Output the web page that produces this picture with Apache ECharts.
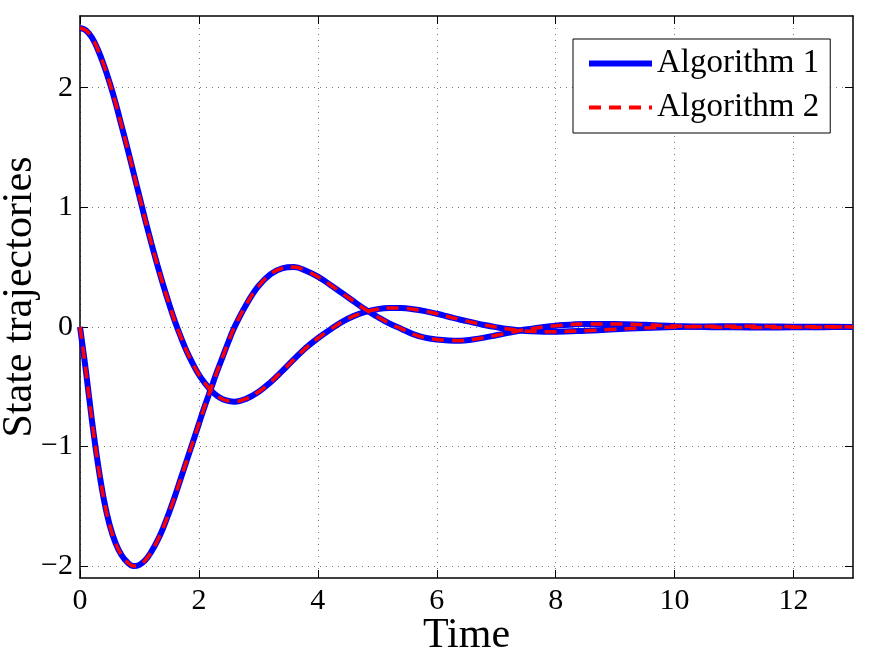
<!DOCTYPE html>
<html>
<head>
<meta charset="utf-8">
<script src="https://cdn.jsdelivr.net/npm/echarts@6/dist/echarts.min.js"></script>
<style>
  html, body { margin: 0; padding: 0; background: #fff; }
  #main { width: 875px; height: 659px; }
</style>
</head>
<body>
<div id="main"></div>
<script>
  // time samples
  var time = [0, 0.1, 0.2, 0.3, 0.4, 0.5, 0.6, 0.7, 0.8, 0.9, 1.0, 1.1, 1.2, 1.3, 1.4, 1.5, 1.6, 1.7, 1.8, 1.9, 2.0, 2.1, 2.2, 2.3, 2.4, 2.5, 2.6,
    2.8, 3.0, 3.2, 3.4, 3.6, 3.8, 4.0, 4.2, 4.4, 4.6, 4.8, 5.0, 5.2, 5.4, 5.6, 5.8, 6.0, 6.2, 6.4, 6.6, 6.8, 7.0, 7.2, 7.4, 7.6, 7.8, 8.0,
    8.5, 9, 9.5, 10, 10.5, 11, 11.5, 12, 12.5, 13];

  // first state (starts at 2.5)
  var state1 = [2.50, 2.48, 2.42, 2.32, 2.19, 2.04, 1.87, 1.68, 1.49, 1.29, 1.09, 0.89, 0.70, 0.52, 0.35, 0.19, 0.04, -0.09, -0.21, -0.31, -0.40, -0.47, -0.53, -0.575, -0.605, -0.62, -0.625,
    -0.60, -0.545, -0.465, -0.37, -0.27, -0.175, -0.095, -0.025, 0.04, 0.09, 0.125, 0.148, 0.158, 0.157, 0.148, 0.132, 0.11, 0.085, 0.06, 0.038, 0.016, -0.002, -0.018, -0.03, -0.037, -0.04, -0.04,
    -0.032, -0.02, -0.009, -0.001, 0.004, 0.005, 0.004, 0.002, 0.001, 0];

  // second state (starts at 0)
  var state2 = [0, -0.37, -0.78, -1.14, -1.44, -1.66, -1.81, -1.91, -1.97, -2.0, -1.99, -1.95, -1.88, -1.79, -1.68, -1.55, -1.41, -1.26, -1.11, -0.96, -0.81, -0.66, -0.52, -0.38, -0.25, -0.12, 0.0,
    0.19, 0.34, 0.44, 0.49, 0.50, 0.47, 0.42, 0.355, 0.285, 0.215, 0.145, 0.085, 0.03, -0.015, -0.06, -0.09, -0.105, -0.113, -0.115, -0.105, -0.09, -0.07, -0.05, -0.03, -0.015, 0.0, 0.01,
    0.024, 0.025, 0.017, 0.008, 0.0, -0.004, -0.005, -0.004, -0.002, 0];

  var xTicks = [0, 2, 4, 6, 8, 10, 12];
  var yTicks = [-2, -1, 0, 1, 2];

  function pairs(vals) {
    var out = [];
    for (var i = 0; i < time.length; i++) out.push([time[i], vals[i]]);
    return out;
  }

  var font = 'Liberation Serif';
  var gridStyle = { show: true, lineStyle: { color: '#7a7a7a', width: 1, type: [1, 5] } };
  var frame = { onZero: false, lineStyle: { color: '#000', width: 1.5 } };
  var tickX = { inside: true, length: 8, customValues: xTicks, lineStyle: { color: '#000' } };
  var tickY = { show: true, inside: true, length: 8, customValues: yTicks, lineStyle: { color: '#000' } };

  function blueLine(vals) {
    return {
      name: 'Algorithm 1', type: 'line', data: pairs(vals), smooth: 0.4,
      symbol: 'none', lineStyle: { color: '#0000ff', width: 6 }, itemStyle: { color: '#0000ff' }
    };
  }
  function redLine(vals) {
    return {
      name: 'Algorithm 2', type: 'line', data: pairs(vals), smooth: 0.4,
      symbol: 'none', lineStyle: { color: '#ff0000', width: 3.5, type: [12, 8] }, itemStyle: { color: '#ff0000' }
    };
  }

  var chart = echarts.init(document.getElementById('main'));
  chart.setOption({
    animation: false,
    backgroundColor: '#fff',
    grid: { left: 80, right: 22, top: 16, bottom: 81, containLabel: false, outerBoundsMode: 'none' },
    legend: {
      orient: 'vertical', left: 573, top: 39,
      padding: [8, 11, 9, 13], itemGap: 11,
      itemWidth: 63, itemHeight: 14,
      backgroundColor: '#fff', borderColor: '#000', borderWidth: 1,
      textStyle: { fontFamily: font, fontSize: 33, color: '#000' },
      itemStyle: { opacity: 0 },
      data: [
        { name: 'Algorithm 1', lineStyle: { width: 6 } },
        { name: 'Algorithm 2', lineStyle: { width: 4 } }
      ]
    },
    xAxis: [{
      type: 'value', min: 0, max: 13,
      name: 'Time', nameLocation: 'middle', nameGap: 37, nameMoveOverlap: false,
      nameTextStyle: { fontFamily: font, fontSize: 42, color: '#000' },
      axisLine: frame,
      axisTick: tickX,
      axisLabel: { customValues: xTicks, fontFamily: font, fontSize: 30, color: '#000', margin: 8 },
      splitLine: gridStyle
    }, {
      type: 'value', min: 0, max: 13, position: 'top',
      axisLine: frame,
      axisTick: tickX,
      axisLabel: { show: false }, splitLine: { show: false }
    }],
    yAxis: [{
      type: 'value', min: -2.1, max: 2.6,
      name: 'State trajectories', nameLocation: 'middle', nameGap: 39, nameMoveOverlap: false,
      nameTextStyle: { fontFamily: font, fontSize: 42, color: '#000' },
      axisLine: frame,
      axisTick: tickY,
      axisLabel: {
        customValues: yTicks, fontFamily: font, fontSize: 30, color: '#000', margin: 7,
        formatter: function (v) { return v < 0 ? '\u2212' + Math.abs(v) : String(v); }
      },
      splitLine: gridStyle
    }, {
      type: 'value', min: -2.1, max: 2.6, position: 'right',
      axisLine: { show: true, onZero: false, lineStyle: { color: '#000', width: 1.5 } },
      axisTick: tickY,
      axisLabel: { show: false }, splitLine: { show: false }
    }],
    series: [
      blueLine(state1),
      blueLine(state2),
      redLine(state1),
      redLine(state2)
    ]
  });
</script>
</body>
</html>
